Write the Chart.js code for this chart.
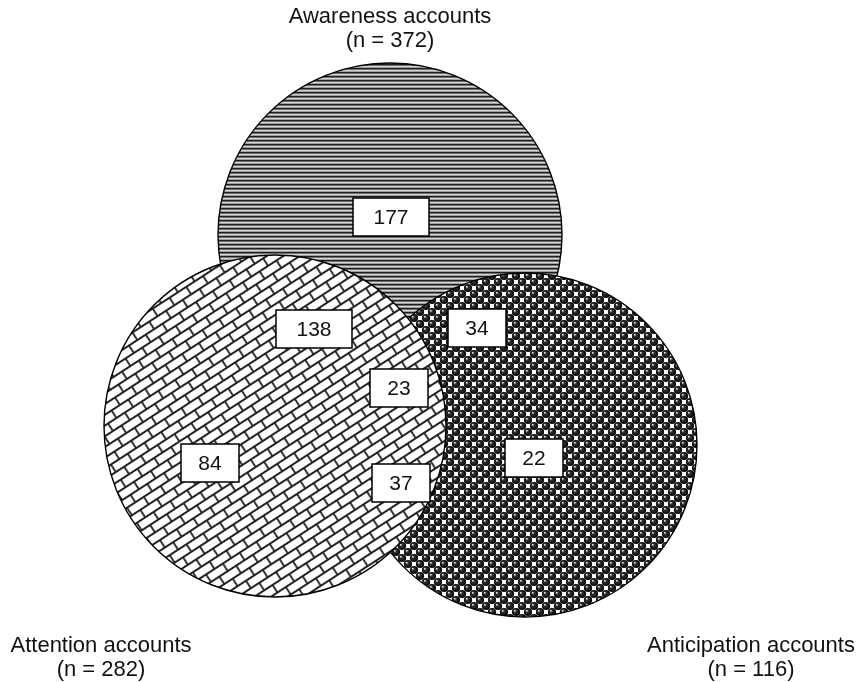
<!DOCTYPE html>
<html lang="en">
<head>
  <meta charset="UTF-8" />
  <title>Awareness / Attention / Anticipation accounts</title>
  <script src="https://cdn.jsdelivr.net/npm/chart.js"></script>
  <style>
    body { margin: 0; background: #fff; }
    #wrap { width: 864px; height: 682px; position: relative; }
  </style>
</head>
<body>
  <div id="wrap"><canvas id="venn"></canvas></div>

  <script>
    // sets (circles)
    const setNames = ["Awareness accounts", "Attention accounts", "Anticipation accounts"];
    const setTotals = [372, 282, 116];

    // region counts
    const regionNames = ["Awareness only", "Awareness & Attention", "Awareness & Anticipation",
                         "All three", "Attention only", "Attention & Anticipation", "Anticipation only"];
    const regionCounts = [177, 138, 34, 23, 84, 37, 22];

    // layout (in chart units, 1 unit = 1 px)
    const circleX = [390, 275, 525];
    const circleY = [235, 426, 445];
    const circleR = [172, 171, 172];
    const regionX = [391, 314, 477, 399, 210, 401, 534];
    const regionY = [217, 329, 328, 388, 463, 483, 458];
    const titleX = [390, 101, 751];
    const titleY = [17, 646, 646];

    function makeStripes() {
      const c = document.createElement("canvas");
      c.width = 4; c.height = 4;
      const g = c.getContext("2d");
      ["#1e1e1e", "#707070", "#d4d4d4", "#a0a0a0"].forEach((col, i) => {
        g.fillStyle = col; g.fillRect(0, i, 4, 1);
      });
      return g.createPattern(c, "repeat");
    }

    function makeBricks() {
      const c = document.createElement("canvas");
      c.width = 20; c.height = 18;
      const g = c.getContext("2d");
      g.fillStyle = "#fff"; g.fillRect(0, 0, 20, 18);
      g.strokeStyle = "#222"; g.lineWidth = 1.8;
      g.beginPath();
      g.moveTo(0, 0); g.lineTo(20, 0);
      g.moveTo(0, 9); g.lineTo(20, 9);
      g.moveTo(0, 18); g.lineTo(20, 18);
      g.moveTo(0, 0); g.lineTo(0, 9);
      g.moveTo(20, 0); g.lineTo(20, 9);
      g.moveTo(10, 9); g.lineTo(10, 18);
      g.stroke();
      const p = g.createPattern(c, "repeat");
      p.setTransform(new DOMMatrix().rotateSelf(-33));
      return p;
    }

    function makeSpheres() {
      const c = document.createElement("canvas");
      c.width = 12; c.height = 12;
      const g = c.getContext("2d");
      g.fillStyle = "#fff"; g.fillRect(0, 0, 12, 12);
      [[0, 0], [12, 0], [0, 12], [12, 12], [6, 6]].forEach(([x, y]) => {
        const grd = g.createRadialGradient(x - 1.4, y - 1.4, 0.2, x, y, 4.1);
        grd.addColorStop(0, "#eee");
        grd.addColorStop(0.3, "#333");
        grd.addColorStop(1, "#000");
        g.fillStyle = grd;
        g.beginPath(); g.arc(x, y, 4.1, 0, Math.PI * 2); g.fill();
      });
      return g.createPattern(c, "repeat");
    }

    const fills = [makeStripes(), makeBricks(), makeSpheres()];
    // awareness bottom, anticipation middle, attention on top
    const drawOrder = [3, 1, 2];

    const datasets = setNames.map((name, i) => ({
      label: name,
      data: [{ x: circleX[i], y: circleY[i], r: circleR[i] }],
      backgroundColor: fills[i],
      borderColor: "#000",
      borderWidth: 1.4,
      hoverRadius: 0,
      clip: false,
      order: drawOrder[i]
    }));

    const labelsPlugin = {
      id: "vennLabels",
      afterDraw(chart) {
        const { ctx, scales: { x, y } } = chart;
        ctx.save();
        ctx.textAlign = "center";
        ctx.textBaseline = "middle";
        ctx.font = "21px 'Liberation Sans', Arial, sans-serif";
        regionCounts.forEach((v, i) => {
          const px = x.getPixelForValue(regionX[i]);
          const py = y.getPixelForValue(regionY[i]);
          const w = String(v).length > 2 ? 76 : 58;
          const h = 38;
          ctx.fillStyle = "#fff";
          ctx.fillRect(px - w / 2, py - h / 2, w, h);
          ctx.strokeStyle = "#000"; ctx.lineWidth = 1.5;
          ctx.strokeRect(px - w / 2, py - h / 2, w, h);
          ctx.fillStyle = "#111";
          ctx.fillText(String(v), px, py + 1);
        });
        ctx.font = "22px 'Liberation Sans', Arial, sans-serif";
        setNames.forEach((name, i) => {
          const px = x.getPixelForValue(titleX[i]);
          const py = y.getPixelForValue(titleY[i]);
          ctx.fillText(name, px, py);
          ctx.fillText("(n = " + setTotals[i] + ")", px, py + 24);
        });
        ctx.restore();
      }
    };

    new Chart(document.getElementById("venn"), {
      type: "bubble",
      data: { datasets },
      options: {
        responsive: true,
        maintainAspectRatio: false,
        animation: false,
        events: [],
        layout: { padding: 0, autoPadding: false },
        plugins: { legend: { display: false }, tooltip: { enabled: false } },
        scales: {
          x: { type: "linear", min: 0, max: 864, display: false },
          y: { type: "linear", min: 0, max: 682, reverse: true, display: false }
        }
      },
      plugins: [labelsPlugin]
    });
  </script>
</body>
</html>
